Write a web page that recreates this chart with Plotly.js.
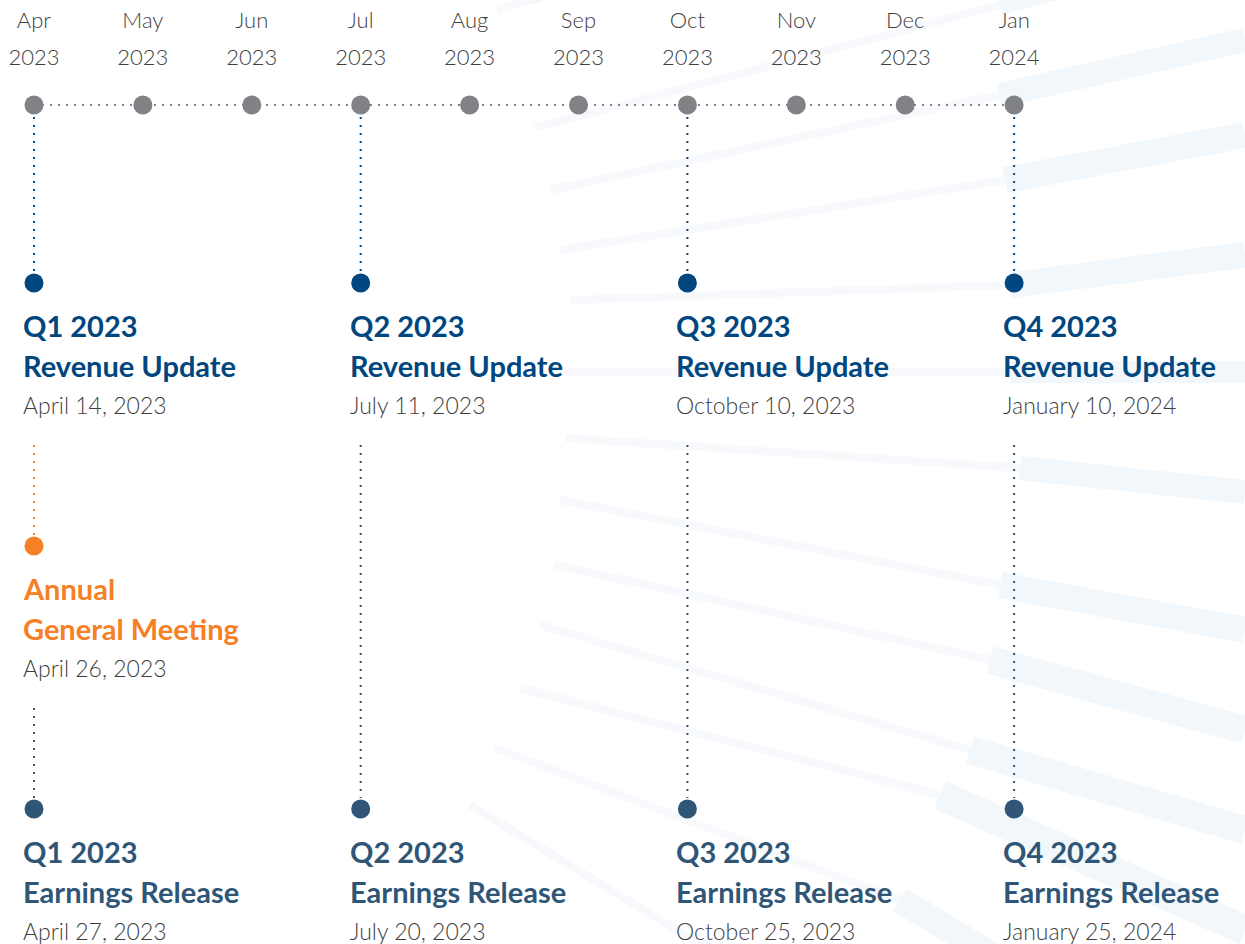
<!DOCTYPE html>
<html>
<head>
<meta charset="utf-8">
<script src="https://cdn.plot.ly/plotly-3.0.1.min.js"></script>
<style>html,body{margin:0;padding:0;background:#fff;}#chart{width:1245px;height:944px;}</style>
</head>
<body>
<div id="chart"></div>
<script>
// ---- data ----
const months = ['Apr','May','Jun','Jul','Aug','Sep','Oct','Nov','Dec','Jan'];
const monthYears = ['2023','2023','2023','2023','2023','2023','2023','2023','2023','2024'];

const eventMonth = ['Apr','Jul','Oct','Jan','Apr','Apr','Jul','Oct','Jan'];
const eventKind  = ['revenue','revenue','revenue','revenue','agm','earnings','earnings','earnings','earnings'];
const eventHead  = ['Q1 2023','Q2 2023','Q3 2023','Q4 2023','Annual','Q1 2023','Q2 2023','Q3 2023','Q4 2023'];
const eventSub   = ['Revenue Update','Revenue Update','Revenue Update','Revenue Update','General Meeting',
                    'Earnings Release','Earnings Release','Earnings Release','Earnings Release'];
const eventDate  = ['April 14, 2023','July 11, 2023','October 10, 2023','January 10, 2024','April 26, 2023',
                    'April 27, 2023','July 20, 2023','October 25, 2023','January 25, 2024'];

// ---- styling / layout constants ----
const kindRow   = {revenue: 283, agm: 546, earnings: 809};
const kindColor = {revenue: '#00467f', agm: '#f58025', earnings: '#2f5677'};
const TIMELINE_Y = 105;
const GRAY = '#818286';
const TEXT = '#3f3f3f';
const FONT = 'Lato, "Open Sans", sans-serif';

const traces = [];

// background streaks (decoration): [x0,y0,xmid,ymid,x1,y1,thin,thick]
const streaks = [
  [497,10,530,0,560,-10,8,10],[535,128,1000,5,1245,-60,8,20],[550,190,1000,95,1245,40,8,24],
  [560,250,1005,180,1245,135,8,26],[570,300,1010,285,1245,255,8,26],[560,372,1010,372,1245,372,8,22],
  [565,438,1020,468,1245,492,8,24],[560,500,1000,585,1245,630,8,26],[555,565,990,660,1245,730,8,28],
  [540,625,970,750,1245,830,8,28],[520,688,940,795,1245,930,8,30],[495,748,900,900,1000,960,8,26],
  [470,805,700,944,760,980,8,14]
];
const shapes = [];
streaks.forEach(s => {
  shapes.push({type:'line', xref:'paper', yref:'paper', layer:'below',
    x0:s[0]/1245, y0:1-s[1]/944, x1:s[2]/1245, y1:1-s[3]/944,
    line:{color:'rgba(225,235,246,0.28)', width:s[6]}});
  shapes.push({type:'line', xref:'paper', yref:'paper', layer:'below',
    x0:s[2]/1245, y0:1-s[3]/944, x1:s[4]/1245, y1:1-s[5]/944,
    line:{color:'rgba(220,232,245,0.36)', width:s[7]}});
});

// timeline dotted line
traces.push({
  x:[months[0], months[months.length-1]], y:[TIMELINE_Y, TIMELINE_Y],
  mode:'lines', line:{color:GRAY, width:2, dash:'2px,6px'}, hoverinfo:'skip'
});

// connectors
eventMonth.forEach((m, i) => {
  const row = kindRow[eventKind[i]];
  let start = TIMELINE_Y + 12;
  eventMonth.forEach((m2, j) => {
    const r2 = kindRow[eventKind[j]];
    if (m2 === m && r2 < row && r2 + 162 > start) start = r2 + 162;
  });
  traces.push({
    x:[m, m], y:[start, row - 11], mode:'lines',
    line:{color:kindColor[eventKind[i]], width:2, dash:'2px,6px'}, hoverinfo:'skip'
  });
});

// month markers
traces.push({
  x:months, y:months.map(() => TIMELINE_Y), mode:'markers',
  marker:{size:19, color:GRAY}, hoverinfo:'skip'
});
// month labels
traces.push({
  x:months, y:months.map(() => 22), mode:'text', text:months,
  textfont:{family:FONT, size:22, color:TEXT, weight:300}, hoverinfo:'skip'
});
traces.push({
  x:months, y:months.map(() => 59), mode:'text', text:monthYears,
  textfont:{family:FONT, size:22, color:TEXT, weight:300}, hoverinfo:'skip'
});

// event dots
traces.push({
  x:eventMonth, y:eventKind.map(k => kindRow[k]), mode:'markers',
  marker:{size:19, color:eventKind.map(k => kindColor[k])}, hoverinfo:'skip'
});

// event labels
const annotations = [];
eventMonth.forEach((m, i) => {
  const row = kindRow[eventKind[i]];
  const col = kindColor[eventKind[i]];
  const base = {x:m, xref:'x', yref:'y', xanchor:'left', yanchor:'middle', xshift:-13, showarrow:false};
  annotations.push(Object.assign({}, base, {y:row + 42, text:eventHead[i],
    font:{family:FONT, size:29, color:col, weight:700}}));
  annotations.push(Object.assign({}, base, {y:row + 82, text:eventSub[i],
    font:{family:FONT, size:29, color:col, weight:700}}));
  annotations.push(Object.assign({}, base, {y:row + 122, text:eventDate[i],
    font:{family:FONT, size:23, color:TEXT, weight:300}}));
});

const layout = {
  width:1245, height:944,
  margin:{l:0, r:0, t:0, b:0},
  paper_bgcolor:'#ffffff', plot_bgcolor:'rgba(0,0,0,0)',
  showlegend:false,
  xaxis:{type:'category', categoryorder:'array', categoryarray:months,
         range:[-0.312, 11.12], visible:false, fixedrange:true},
  yaxis:{range:[944, 0], visible:false, fixedrange:true},
  shapes:shapes,
  annotations:annotations
};

Plotly.newPlot('chart', traces, layout, {displayModeBar:false, staticPlot:true});
</script>
</body>
</html>
